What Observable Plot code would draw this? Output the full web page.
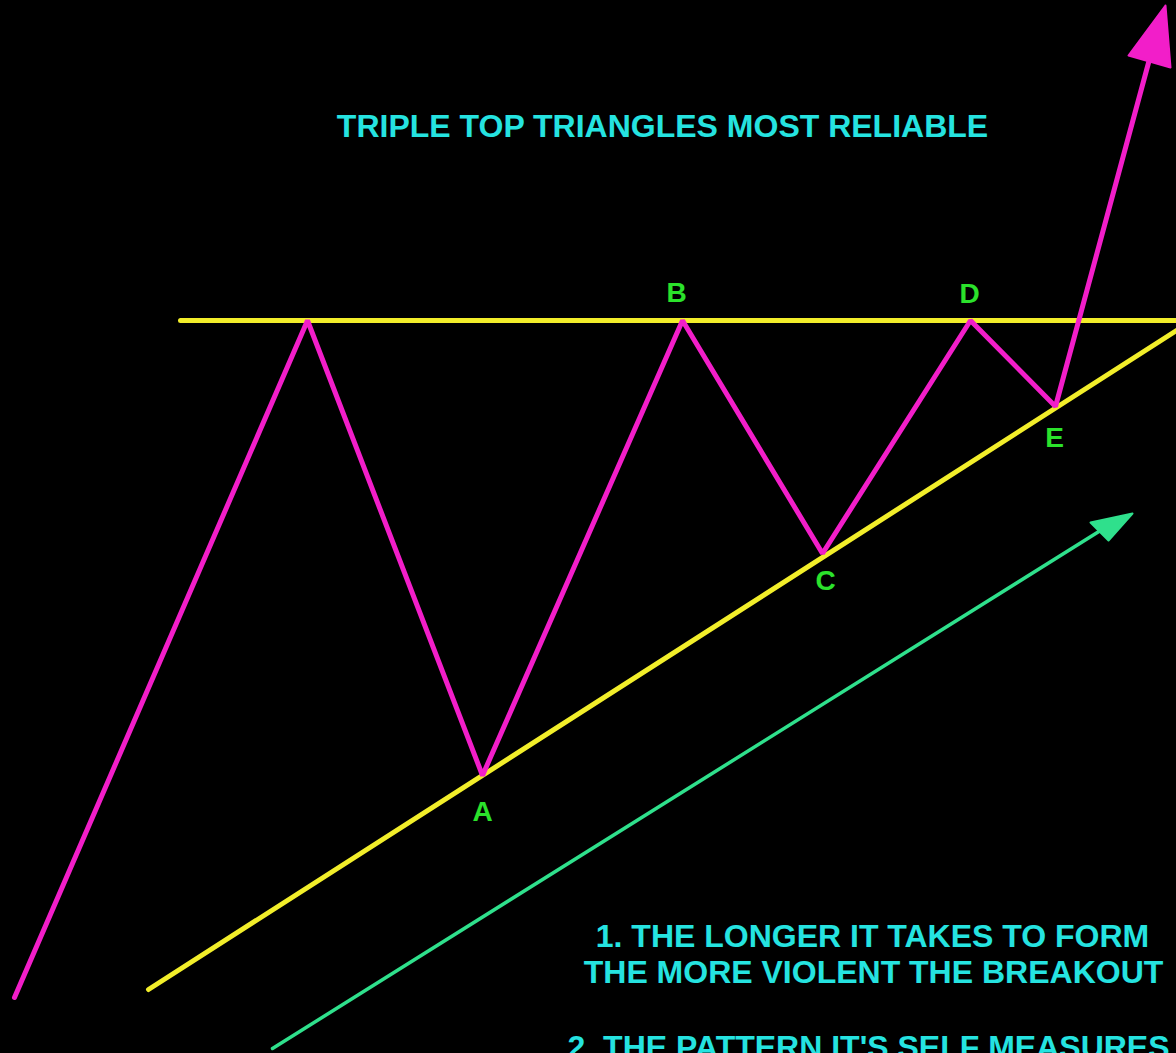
<!DOCTYPE html>
<html>
<head>
<meta charset="utf-8">
<script src="https://cdn.jsdelivr.net/npm/d3@7"></script>
<script src="https://cdn.jsdelivr.net/npm/@observablehq/plot@0.6"></script>
<style>
  html, body { margin: 0; padding: 0; background: #000; overflow: hidden; }
  #chart svg { display: block; }
</style>
</head>
<body>
<div id="chart"></div>
<script>
// Price path (x = time, y = price)
const pathX = [14, 307, 482, 682, 822, 970, 1055, 1150];
const pathY = [56, 733, 278, 733, 500, 733, 647, 998];
// Peak/trough labels
const labelNames = ["A", "B", "C", "D", "E"];
const labelX = [482, 676, 825, 969, 1054];
const labelY = [241, 760, 472, 759, 615];
// Resistance (horizontal) line
const resistX = [180, 1176];
const resistY = [733, 733];
// Rising support line
const supportX = [148, 1176];
const supportY = [64, 723];
// Green trend arrow
const trendX = [272, 1100];
const trendY = [5, 523];
const trendHeadX = [1132, 1090, 1108, 1132];
const trendHeadY = [540, 531, 513, 540];
// Breakout arrowhead
const breakHeadX = [1165, 1128, 1170, 1165];
const breakHeadY = [1048, 998, 986, 1048];
// Texts
const title = "TRIPLE TOP TRIANGLES MOST RELIABLE";
const notes = ["1. THE LONGER IT TAKES TO FORM", "THE MORE VIOLENT THE BREAKOUT"];
const noteX = [872, 873];
const noteY = [117, 81];
const note2 = "2. THE PATTERN IT'S SELF MEASURES";

const toPts = (xs, ys) => xs.map((x, i) => ({x, y: ys[i]}));

const magenta = "#f21ec9";
const yellow = "#f2ee2a";
const cyan = "#25e3e0";
const labelGreen = "#2be22b";
const arrowGreen = "#2fe08c";
const font = "'Liberation Sans', Arial, sans-serif";

const chart = Plot.plot({
  width: 1176,
  height: 1053,
  margin: 0,
  x: {domain: [0, 1176], axis: null},
  y: {domain: [0, 1053], axis: null},
  style: {background: "#000", fontFamily: font},
  marks: [
    Plot.line(toPts(trendX, trendY), {x: "x", y: "y", stroke: arrowGreen, strokeWidth: 3.5}),
    Plot.line(toPts(trendHeadX, trendHeadY), {x: "x", y: "y", stroke: arrowGreen, fill: arrowGreen, strokeWidth: 2, strokeLinejoin: "round"}),
    Plot.line(toPts(resistX, resistY), {x: "x", y: "y", stroke: yellow, strokeWidth: 5}),
    Plot.line(toPts(supportX, supportY), {x: "x", y: "y", stroke: yellow, strokeWidth: 5}),
    Plot.line(toPts(pathX, pathY), {x: "x", y: "y", stroke: magenta, strokeWidth: 5, strokeLinejoin: "miter"}),
    Plot.line(toPts(breakHeadX, breakHeadY), {x: "x", y: "y", stroke: magenta, fill: magenta, strokeWidth: 2, strokeLinejoin: "round"}),
    Plot.text(labelNames.map((t, i) => ({t, x: labelX[i], y: labelY[i]})), {
      x: "x", y: "y", text: "t", fill: labelGreen, fontSize: 28, fontWeight: "bold", textAnchor: "middle"
    }),
    Plot.text([title], {x: 662, y: 927, text: d => d, fill: cyan, fontSize: 32, fontWeight: "bold", textAnchor: "middle"}),
    Plot.text(notes.map((t, i) => ({t, x: noteX[i], y: noteY[i]})), {
      x: "x", y: "y", text: "t", fill: cyan, fontSize: 32, fontWeight: "bold", textAnchor: "middle"
    }),
    Plot.text([note2], {x: 567, y: 6, text: d => d, fill: cyan, fontSize: 32, fontWeight: "bold", textAnchor: "start"})
  ]
});
document.getElementById("chart").append(chart);
</script>
</body>
</html>
